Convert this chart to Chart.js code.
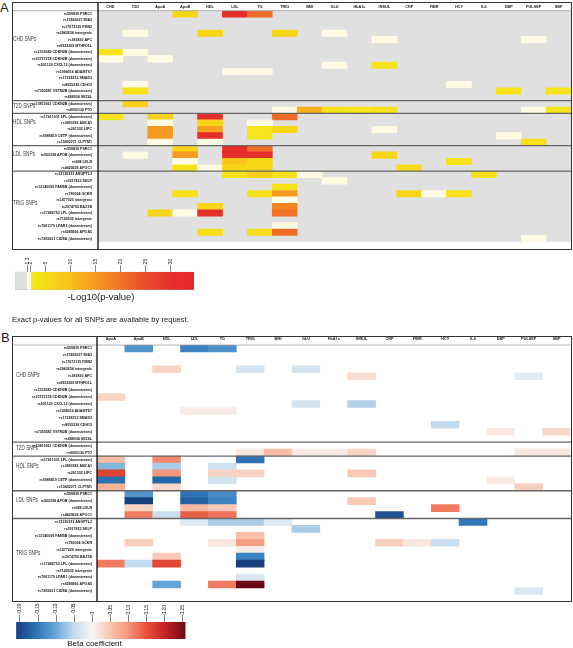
<!DOCTYPE html>
<html><head><meta charset="utf-8">
<script src="https://cdn.jsdelivr.net/npm/chart.js@4.4.1/dist/chart.umd.min.js"></script>
<style>
html,body{margin:0;padding:0;background:#fff;}
body{width:573px;height:648px;position:relative;overflow:hidden;font-family:"Liberation Sans",Arial,Helvetica,sans-serif;}
canvas{position:absolute;}
.t{position:absolute;white-space:nowrap;color:#1a1a1a;}
</style></head><body>
<div class="t" style="left:0px;top:0px;font-size:13px;line-height:15px;">A</div>
<canvas id="heatA" width="560" height="248" style="left:12px;top:2px;"></canvas>
<canvas id="barA" width="200" height="42" style="left:0px;top:250px;"></canvas>
<div class="t" style="left:101px;transform:translateX(-50%);top:291.2px;font-size:9.5px;line-height:12px;">-Log10(p-value)</div>
<div class="t" style="left:12px;top:315.4px;font-size:7.6px;line-height:10px;">Exact p-values for all SNPs are available by request.</div>
<div class="t" style="left:1px;top:330px;font-size:13px;line-height:15px;">B</div>
<canvas id="heatB" width="560" height="266" style="left:12px;top:336px;"></canvas>
<canvas id="barB" width="200" height="42" style="left:0px;top:600px;"></canvas>
<div class="t" style="left:94.5px;transform:translateX(-50%);top:639px;font-size:8px;line-height:10px;color:#111;">Beta coefficient</div>
<script>
// ---------------- DATA ----------------
const columnsA = ['CHD','T2D','ApoA','ApoB','HDL','LDL','TG','TRIG','BMI','GLU','HbA1c','INSUL','CRP','FIBR','HCY','IL6','DBP','PULSEP','SBP'];
const columnsB = ['ApoA','ApoB','HDL','LDL','TG','TRIG','BMI','GLU','HbA1c','INSUL','CRP','FIBR','HCY','IL6','DBP','PULSEP','SBP'];
const groups = ['CHD SNPs','T2D SNPs','HDL SNPs','LDL SNPs','TRIG SNPs'];

const snpsCHD = ['rs599839 PSRC1','rs17465637 MIA3','rs17672135 FMN2','rs2943634 intergenic','rs383830 APC','rs6922269 MTHFD1L',
  'rs1333049 CDKN2B (downstream)','rs10757274 CDKN2B (downstream)','rs501120 CXCL12 (downstream)','rs1994016 ADAMTS7',
  'rs17228212 SMAD3','rs8055236 CDH13','rs7250581 VSTM2B (downstream)','rs688034 SEZ6L'];
const snpsT2D = ['rs10811661 CDKN2B (downstream)','rs8050136 FTO'];
const snpsHDL = ['rs17411031 LPL (downstream)','rs3890182 ABCA1','rs261332 LIPC','rs9989419 CETP (downstream)','rs10402271 CLPTM1'];
const snpsLDL = ['rs599839 PSRC1','rs562338 APOB (downstream)','rs688 LDLR','rs4420638 APOC1'];
const snpsTRIG = ['rs12130333 ANGPTL3','rs3917823 SELP','rs12140099 FAM5B (downstream)','rs780094 GCKR','rs1477020 intergenic',
  'rs2074755 BAZ1B','rs17482753 LPL (downstream)','rs7140535 intergenic','rs7661179 LPAR1 (downstream)','rs6589566 APOA5',
  'rs7205021 CIDEA (downstream)'];

// Panel A: -log10(p-value), cells below 1.3 are left empty
const logpCHD = [
  {ApoB:6, LDL:32, TG:21}, {}, {},
  {T2D:1.6, HDL:6, TRIG:6, GLU:1.6},
  {INSUL:1.6, PULSEP:1.6}, {},
  {CHD:3.5, T2D:1.6},
  {CHD:1.6, ApoA:1.6},
  {GLU:1.6, INSUL:3.5},
  {LDL:1.6, TG:1.6}, {},
  {T2D:1.6, HCY:1.6},
  {T2D:4, DBP:3.5, SBP:3.5}, {}
];
const logpT2D = [
  {T2D:7},
  {TRIG:1.6, BMI:12, GLU:3.5, HbA1c:3, INSUL:4, PULSEP:1.6, SBP:3.5}
];
const logpHDL = [
  {CHD:3.5, ApoA:7, HDL:32, TRIG:21},
  {ApoA:1.6, HDL:6, TG:1.6},
  {ApoA:15, HDL:14, TG:3, TRIG:6, INSUL:1.6},
  {ApoA:15, HDL:30, TG:3, DBP:1.6},
  {ApoA:1.6, HDL:1.6, PULSEP:4}
];
const logpLDL = [
  {ApoB:6, LDL:32, TG:21},
  {T2D:1.6, ApoB:15, LDL:32, TG:31, INSUL:6},
  {ApoB:1.6, LDL:9, TG:6, HCY:4},
  {ApoB:3.5, HDL:1.6, LDL:6, TG:6, CRP:5}
];
const logpTRIG = [
  {LDL:4, TG:7, TRIG:4, BMI:1.6, IL6:4},
  {GLU:1.6},
  {TRIG:4},
  {ApoB:3.5, TG:3.5, TRIG:15, CRP:6, FIBR:1.6, HCY:4},
  {TRIG:1.6},
  {HDL:6, TRIG:18},
  {ApoA:6, ApoB:1.6, HDL:31, TRIG:20},
  {},
  {TRIG:1.6},
  {HDL:4.5, TG:4.5, TRIG:21},
  {PULSEP:1.6}
];

// Panel B: beta coefficients
const betaCHD = [
  {ApoB:-0.12, LDL:-0.14, TG:-0.125}, {}, {},
  {HDL:0.035, TRIG:-0.035, GLU:-0.035},
  {INSUL:0.025, PULSEP:-0.02}, {}, {},
  {ApoA:0.035},
  {GLU:-0.035, INSUL:-0.06},
  {LDL:0.012, TG:0.012}, {},
  {HCY:-0.05},
  {DBP:0.013, SBP:0.03}, {}
];
const betaT2D = [
  {},
  {TRIG:0.015, BMI:0.06, GLU:0.013, HbA1c:0.013, INSUL:0.035, PULSEP:0.015, SBP:0.015}
];
const betaHDL = [
  {ApoA:0.06, HDL:0.11, TRIG:-0.155},
  {ApoA:-0.085, HDL:-0.065, TG:-0.04},
  {ApoA:0.165, HDL:0.1, TG:0.035, TRIG:0.035, INSUL:0.045},
  {ApoA:-0.16, HDL:-0.17, TG:-0.035, DBP:0.012},
  {ApoA:0.07, HDL:0.03, PULSEP:0.04}
];
const betaLDL = [
  {ApoB:-0.12, LDL:-0.155, TG:-0.13},
  {ApoB:-0.21, LDL:-0.175, TG:-0.14, INSUL:0.045},
  {ApoB:0.035, LDL:0.065, TG:0.045, HCY:0.12},
  {ApoB:0.12, HDL:-0.045, LDL:0.14, TG:0.125, CRP:-0.19}
];
const betaTRIG = [
  {LDL:-0.025, TG:-0.065, TRIG:-0.065, BMI:-0.025, IL6:-0.15},
  {GLU:-0.065},
  {TRIG:0.055},
  {ApoB:0.04, TG:0.015, TRIG:0.09, CRP:0.04, FIBR:0.015, HCY:-0.045},
  {TRIG:0.01},
  {HDL:0.045, TRIG:-0.14},
  {ApoA:0.12, ApoB:-0.05, HDL:0.16, TRIG:-0.22},
  {},
  {TRIG:-0.03},
  {HDL:-0.105, TG:0.12, TRIG:0.26},
  {PULSEP:-0.03}
];

const scaleRangeA = [-1.14, 34.72];
const tickValuesA = [1.3, 2, 5, 10, 15, 20, 25, 30];
const tickLabelsA = ['1.3','2','5','10','15','20','25','30'];
const scaleRangeB = [-0.211, 0.259];
const tickValuesB = [-0.20, -0.15, -0.10, -0.05, 0, 0.05, 0.10, 0.15, 0.20, 0.25];
const tickLabelsB = ['-0.20','-0.15','-0.10','-0.05','0','0.05','0.10','0.15','0.20','0.25'];

// ---------------- STYLE ----------------
const FONT = '"Liberation Sans", Arial, sans-serif';
const GRAY = '#e0e0e0';
const CREAM = '#fffbe3';
const stopsA = [[2,'#f5ea1c'],[5,'#f7dc18'],[10,'#f8bf1a'],[15,'#f59a22'],[20,'#f07427'],[25,'#ea4b29'],[30,'#e52f2a'],[35,'#e42929']];
const stopsB = [[-0.211,'#163f7e'],[-0.2,'#1b4a8c'],[-0.15,'#2f78ba'],[-0.10,'#6aa8d6'],[-0.05,'#c5dbee'],[0,'#f8f6f5'],
                [0.05,'#f9c4ae'],[0.10,'#f4977b'],[0.15,'#e9503a'],[0.20,'#c42526'],[0.259,'#6b0a12']];
const groupLabelAt = [4.4, 0.9, 1.4, 1.35, 5.0];

function hex(h){ return [parseInt(h.slice(1,3),16),parseInt(h.slice(3,5),16),parseInt(h.slice(5,7),16)]; }
function interp(stops, v){
  if (v <= stops[0][0]) return stops[0][1];
  for (let i=1;i<stops.length;i++){
    if (v <= stops[i][0]){
      const [v0,c0]=stops[i-1], [v1,c1]=stops[i];
      const t=(v-v0)/(v1-v0), a=hex(c0), b=hex(c1);
      return 'rgb('+a.map((x,k)=>Math.round(x+(b[k]-x)*t)).join(',')+')';
    }
  }
  return stops[stops.length-1][1];
}
const colorA = v => v < 2 ? CREAM : interp(stopsA, v);
const colorB = v => interp(stopsB, v);

// ---------------- ROWS ----------------
const groupSnps = [snpsCHD, snpsT2D, snpsHDL, snpsLDL, snpsTRIG];
const rowKeys = [], rowNames = [], groupStart = [];
groupSnps.forEach((list,g)=>{ groupStart.push(rowKeys.length); list.forEach((s,i)=>{ rowKeys.push(g+':'+i); rowNames.push(s); }); });

function cells(groupVals, cols){
  const out=[];
  groupVals.forEach((rows,g)=>rows.forEach((obj,i)=>{
    for (const k in obj){ const c=cols.indexOf(k); out.push({x:[c,c+1], y:g+':'+i, v:obj[k]}); }
  }));
  return out;
}

function framePlugin(bg, labelX){
  return {
    id:'frame',
    beforeDatasetsDraw(chart){
      if(!bg) return;
      const a=chart.chartArea, ctx=chart.ctx;
      ctx.save(); ctx.fillStyle=bg; ctx.fillRect(a.left,a.top,a.right-a.left,a.bottom-a.top); ctx.restore();
    },
    afterDraw(chart){
      const ctx=chart.ctx, a=chart.chartArea, W=chart.width, H=chart.height, ys=chart.scales.y;
      const band=(a.bottom-a.top)/rowKeys.length;
      const line=(x1,y1,x2,y2)=>{ctx.beginPath();ctx.moveTo(x1,y1);ctx.lineTo(x2,y2);ctx.stroke();};
      ctx.save();
      ctx.strokeStyle='#a0a0a0'; ctx.lineWidth=0.8; line(0,a.top,W,a.top);
      ctx.strokeStyle='#666'; ctx.lineWidth=1.3;
      groupStart.slice(1).forEach(s=>{ const yy=ys.getPixelForValue(s)-band/2; line(0,yy,W,yy); });
      ctx.strokeStyle='#1a1a1a'; ctx.lineWidth=1.4; line(a.left,0,a.left,H);
      ctx.strokeStyle='#333'; ctx.lineWidth=1; ctx.strokeRect(0.5,0.5,W-1,H-1);
      ctx.fillStyle='#3a3a3a'; ctx.font='6.5px '+FONT; ctx.textBaseline='middle'; ctx.textAlign='left';
      groups.forEach((g,i)=>{
        const yy=ys.getPixelForValue(groupStart[i])-band/2+groupLabelAt[i]*band;
        ctx.save(); ctx.translate(labelX,yy); ctx.scale(0.72,1); ctx.fillText(g,0,0); ctx.restore();
      });
      ctx.restore();
    }
  };
}

function heatChart(id, cols, vals, colorFn, o){
  return new Chart(document.getElementById(id), {
    type:'bar',
    data:{ labels: rowKeys, datasets:[{ data: cells(vals, cols), backgroundColor: ctx => colorFn(ctx.raw.v),
      borderWidth:0, borderSkipped:false, barPercentage:1, categoryPercentage:1 }]},
    options:{
      indexAxis:'y', responsive:false, animation:false, devicePixelRatio:1,
      layout:{padding:{left:0, top:0, right:o.padRight, bottom:o.padBottom}},
      plugins:{legend:{display:false}, tooltip:{enabled:false}},
      scales:{
        x:{type:'linear', position:'top', min:0, max:cols.length,
          grid:{display:false, drawTicks:false}, border:{display:false},
          afterBuildTicks: s => { s.ticks = cols.map((c,i)=>({value:i+0.5})); },
          afterFit: s => { s.height = o.headH; },
          ticks:{autoSkip:false, maxRotation:0, minRotation:0, padding:o.headPad, color:'#222',
            font:{size:3.8, weight:'bold', family:FONT}, callback: v => cols[Math.floor(v)]}},
        y:{type:'category', grid:{display:false, drawTicks:false}, border:{display:false},
          afterFit: s => { s.width = o.labW; },
          ticks:{autoSkip:false, padding:o.labPad, color:'#151515', font:{size:3.6, weight:'bold', family:FONT},
            callback:(v,i)=>rowNames[i]}}
      }
    },
    plugins:[framePlugin(o.bg, o.labelX)]
  });
}

heatChart('heatA', columnsA, [logpCHD, logpT2D, logpHDL, logpLDL, logpTRIG], colorA,
  {padRight:1, padBottom:1, headH:8.7, headPad:1.7, labW:86, labPad:6, bg:GRAY, labelX:1});
heatChart('heatB', columnsB, [betaCHD, betaT2D, betaHDL, betaLDL, betaTRIG], colorB,
  {padRight:1.5, padBottom:1, headH:9, headPad:3.3, labW:85, labPad:5, bg:null, labelX:4});

function colorbar(id, range, tvals, tlabels, gradStops, o){
  const [mn,mx]=range;
  return new Chart(document.getElementById(id), {
    type:'bar',
    data:{ labels:['cb'], datasets:[{ data:[{x:[mn,mx], y:'cb'}],
      backgroundColor: ctx => {
        const a=ctx.chart.chartArea; if(!a) return null;
        const g=ctx.chart.ctx.createLinearGradient(a.left,0,a.right,0);
        gradStops.forEach(([v,c])=>g.addColorStop(Math.min(1,Math.max(0,(v-mn)/(mx-mn))), c));
        return g;
      },
      borderColor:'#b5b5b5', borderWidth:0.6, borderSkipped:false, barPercentage:1, categoryPercentage:1 }]},
    options:{
      indexAxis:'y', responsive:false, animation:false, devicePixelRatio:1,
      layout:{padding:{left:o.left, right:o.right, top:0, bottom:o.bottom}},
      plugins:{legend:{display:false}, tooltip:{enabled:false}},
      scales:{
        x:{type:'linear', position:'top', min:mn, max:mx,
          grid:{display:true, drawOnChartArea:false, drawTicks:true, tickLength:o.tickLen, color:'#333', lineWidth:0.6},
          border:{display:false},
          afterBuildTicks: s => { s.ticks = tvals.map(v=>({value:v})); },
          afterFit: s => { s.height = o.axisH; },
          ticks:{autoSkip:false, minRotation:90, maxRotation:90, padding:o.pad, color:'#111',
            labelOffset: o.fs*1.2,
            font:{size:o.fs, family:FONT}, callback: v => tlabels[tvals.findIndex(t=>Math.abs(t-v)<1e-9)]}},
        y:{display:false}
      }
    }
  });
}

const gradA = [[scaleRangeA[0],GRAY],[1.3,GRAY],[1.3,CREAM],[2,CREAM]].concat(stopsA);
colorbar('barA', scaleRangeA, tickValuesA, tickLabelsA, gradA, {left:15, right:5.7, bottom:2, axisH:21.7, tickLen:6.5, pad:0.8, fs:5});
colorbar('barB', scaleRangeB, tickValuesB, tickLabelsB, stopsB, {left:16, right:14.3, bottom:2.7, axisH:21.7, tickLen:6.7, pad:0.6, fs:4.8});
</script>
</body></html>
